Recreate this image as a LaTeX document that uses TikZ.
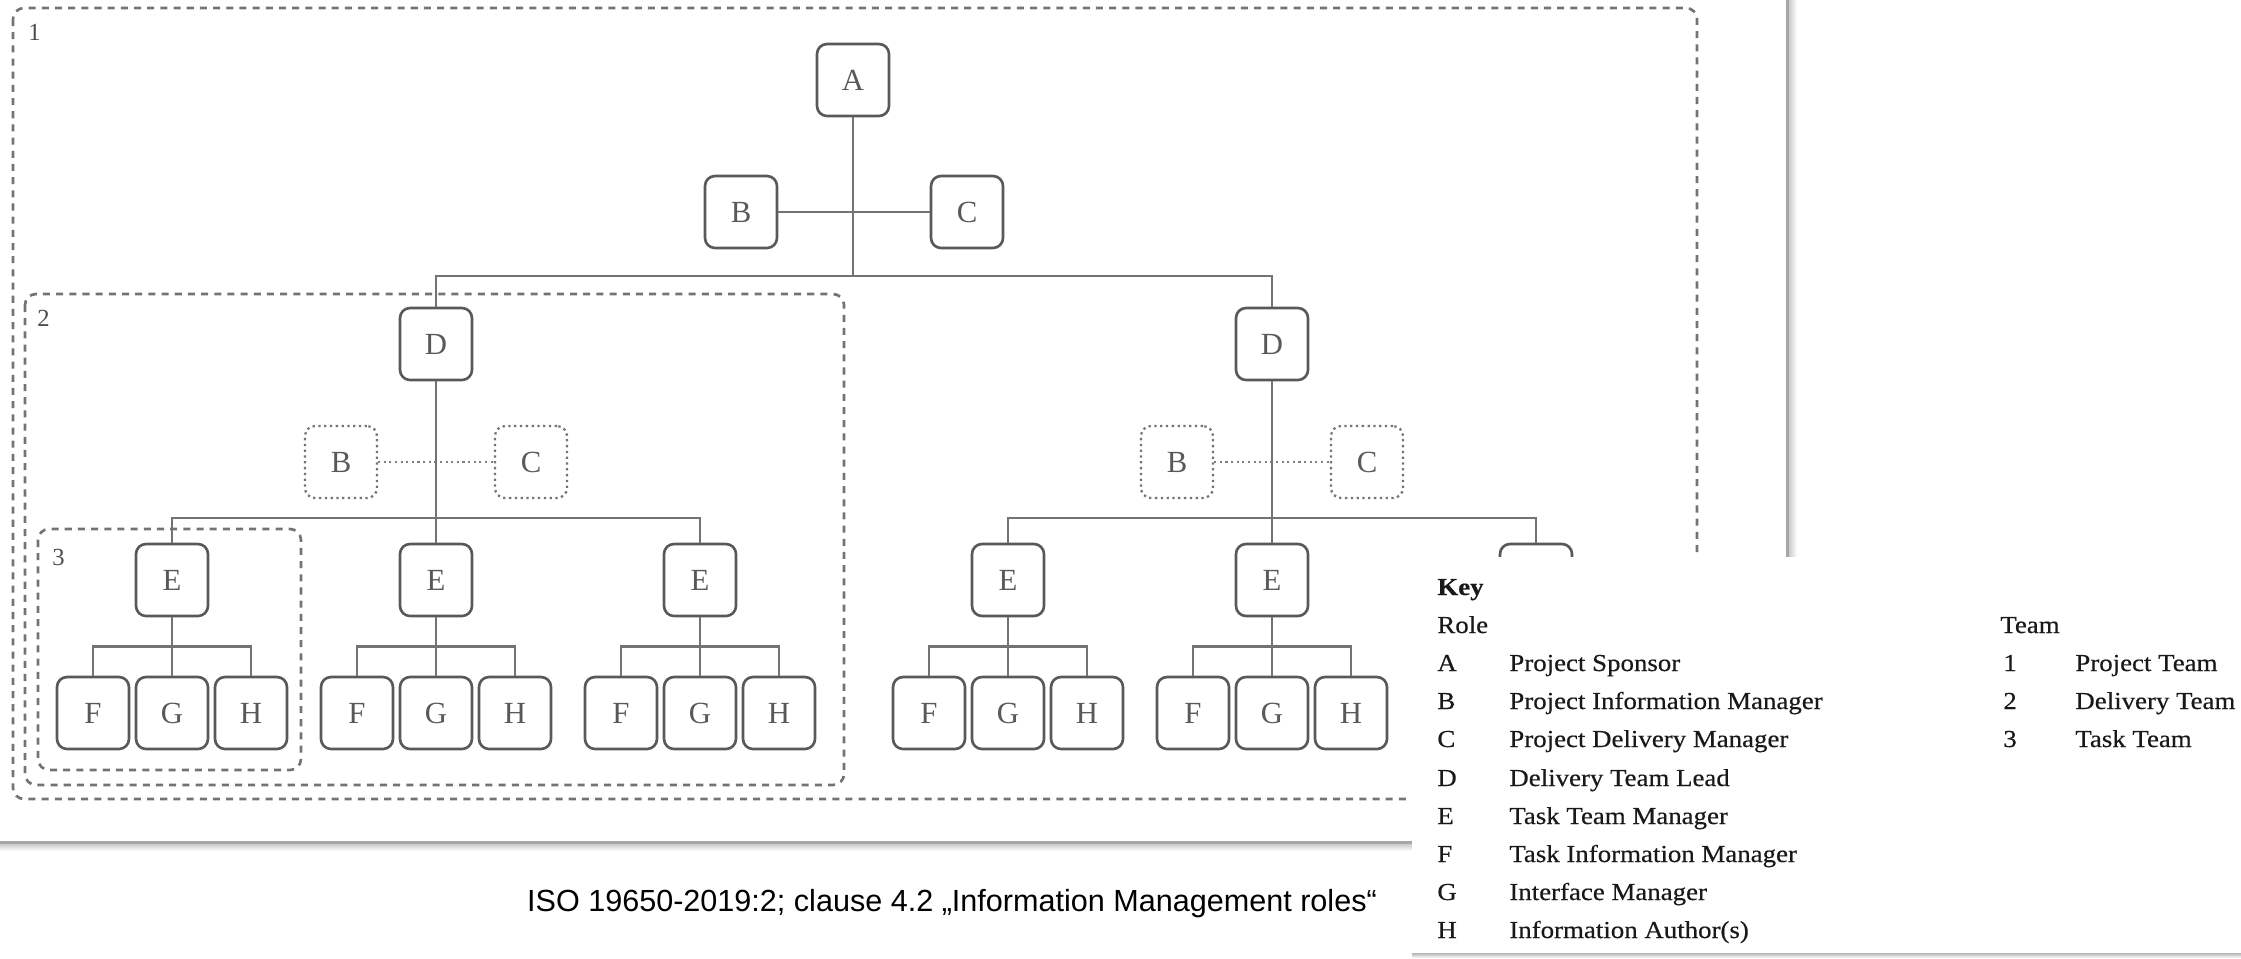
\documentclass[tikz,border=0pt]{standalone}
\usepackage{fontspec}
\setmainfont{Liberation Serif}
\newfontfamily\keyfont[FakeStretch=1.1,FakeBold=0.4]{Liberation Serif}
\newfontfamily\capfont{Liberation Sans}
\usetikzlibrary{calc}

\begin{document}
\begin{tikzpicture}[x=0.02cm, y=-0.02cm,
  role/.style={draw=black!65, line width=1.5pt, rounded corners=0.2cm, fill=white,
    minimum width=1.44cm, minimum height=1.44cm, inner sep=0pt, text=black!65,
    font=\fontsize{17.5}{20}\selectfont},
  optrole/.style={role, draw=black!55, line width=1.3pt, dotted},
  team/.style={draw=black!55, line width=1.5pt, dash pattern=on 4pt off 3.5pt, rounded corners=0.22cm},
  roleline/.style={draw=black!55, line width=1.4pt},
  optline/.style={draw=black!50, line width=1.2pt, dotted},
  teamtag/.style={anchor=north west, inner sep=0pt, text=black!70, font=\fontsize{14}{16}\selectfont},
  keyrow/.style={anchor=base west, inner sep=0pt, text=black!90, font=\keyfont\fontsize{13.9}{16}\selectfont}]
\useasboundingbox (0,0) rectangle (2241,958);

% Teams
\draw[team] (13,8) rectangle (1697,799);
\draw[team] (25,294) rectangle (844,785);
\draw[team] (38,529) rectangle (301,770);
\node[teamtag] (t1) at (28,24) {1};
\node[teamtag] (t2) at (37,310) {2};
\node[teamtag] (t3) at (52,549) {3};

% Project level
\node[role] (A) at (853,80) {A};
\node[role] (B) at (741,212) {B};
\node[role] (C) at (967,212) {C};
\coordinate (busA) at (853,276);

% Delivery teams
\node[role] (dL) at (436,344) {D};
\node[role] (dR) at (1272,344) {D};
\node[optrole] (bL) at (341,462) {B};
\node[optrole] (cL) at (531,462) {C};
\node[optrole] (bR) at (1177,462) {B};
\node[optrole] (cR) at (1367,462) {C};
\coordinate (busL) at (436,518);
\coordinate (busR) at (1272,518);

% Task teams
\node[role] (eL1) at (172,580) {E};
\node[role] (eL2) at (436,580) {E};
\node[role] (eL3) at (700,580) {E};
\node[role] (eR1) at (1008,580) {E};
\node[role] (eR2) at (1272,580) {E};
\node[role] (eR3) at (1536,580) {E};

\node[role] (fL1) at (93,713) {F};
\node[role] (gL1) at (172,713) {G};
\node[role] (hL1) at (251,713) {H};
\node[role] (fL2) at (357,713) {F};
\node[role] (gL2) at (436,713) {G};
\node[role] (hL2) at (515,713) {H};
\node[role] (fL3) at (621,713) {F};
\node[role] (gL3) at (700,713) {G};
\node[role] (hL3) at (779,713) {H};
\node[role] (fR1) at (929,713) {F};
\node[role] (gR1) at (1008,713) {G};
\node[role] (hR1) at (1087,713) {H};
\node[role] (fR2) at (1193,713) {F};
\node[role] (gR2) at (1272,713) {G};
\node[role] (hR2) at (1351,713) {H};

% Connectors
\draw[roleline] (A) -- (busA);
\draw[roleline] (B) -- (C);
\draw[roleline] (dL) |- (busA) -| (dR);

\draw[optline] (bL) -- (cL);
\draw[optline] (bR) -- (cR);
\draw[roleline] (dL) -- (eL2);
\draw[roleline] (dR) -- (eR2);
\draw[roleline] (eL1) |- (busL) -| (eL3);
\draw[roleline] (eR1) |- (busR) -| (eR3);

\draw[roleline] (eL1) -- (gL1);
\draw[roleline] (fL1) |- ($(eL1.south)!.5!(gL1.north)$) -| (hL1);
\draw[roleline] (eL2) -- (gL2);
\draw[roleline] (fL2) |- ($(eL2.south)!.5!(gL2.north)$) -| (hL2);
\draw[roleline] (eL3) -- (gL3);
\draw[roleline] (fL3) |- ($(eL3.south)!.5!(gL3.north)$) -| (hL3);
\draw[roleline] (eR1) -- (gR1);
\draw[roleline] (fR1) |- ($(eR1.south)!.5!(gR1.north)$) -| (hR1);
\draw[roleline] (eR2) -- (gR2);
\draw[roleline] (fR2) |- ($(eR2.south)!.5!(gR2.north)$) -| (hR2);

% Page shadows
\fill[black!35] (1786,0) rectangle (1789,557);
\shade[left color=black!20, right color=white] (1789,0) rectangle (1797,557);
\fill[black!35] (0,841) rectangle (1412,844);
\shade[top color=black!20, bottom color=white] (0,844) rectangle (1412,851);

% Key panel
\shade[top color=black!35, bottom color=white] (1412,952) rectangle (2241,958);
\fill[white] (1412,557) rectangle (2241,953);

\node[keyrow, font=\keyfont\bfseries\fontsize{13.9}{16}\selectfont] (keyhead) at (1437,595) {Key};
\node[keyrow] (rolehead) at (1437,633) {Role};
\node[keyrow] (kA) at (1437,671) {A};
\node[keyrow] (kB) at (1437,709) {B};
\node[keyrow] (kC) at (1437,747) {C};
\node[keyrow] (kD) at (1437,786) {D};
\node[keyrow] (kE) at (1437,824) {E};
\node[keyrow] (kF) at (1437,862) {F};
\node[keyrow] (kG) at (1437,900) {G};
\node[keyrow] (kH) at (1437,938) {H};
\node[keyrow] (tA) at (1509,671) {Project Sponsor};
\node[keyrow] (tB) at (1509,709) {Project Information Manager};
\node[keyrow] (tC) at (1509,747) {Project Delivery Manager};
\node[keyrow] (tD) at (1509,786) {Delivery Team Lead};
\node[keyrow] (tE) at (1509,824) {Task Team Manager};
\node[keyrow] (tF) at (1509,862) {Task Information Manager};
\node[keyrow] (tG) at (1509,900) {Interface Manager};
\node[keyrow] (tH) at (1509,938) {Information Author(s)};

\node[keyrow] (teamhead) at (2000,633) {Team};
\node[keyrow] (k1) at (2003,671) {1};
\node[keyrow] (k2) at (2003,709) {2};
\node[keyrow] (k3) at (2003,747) {3};
\node[keyrow] (n1) at (2075,671) {Project Team};
\node[keyrow] (n2) at (2075,709) {Delivery Team};
\node[keyrow] (n3) at (2075,747) {Task Team};

% Caption
\node[anchor=base, inner sep=0pt, font=\capfont\fontsize{17.4}{20}\selectfont] (cap) at (952,911)
  {ISO 19650-2019:2; clause 4.2 „Information Management roles“};
\end{tikzpicture}
\end{document}
